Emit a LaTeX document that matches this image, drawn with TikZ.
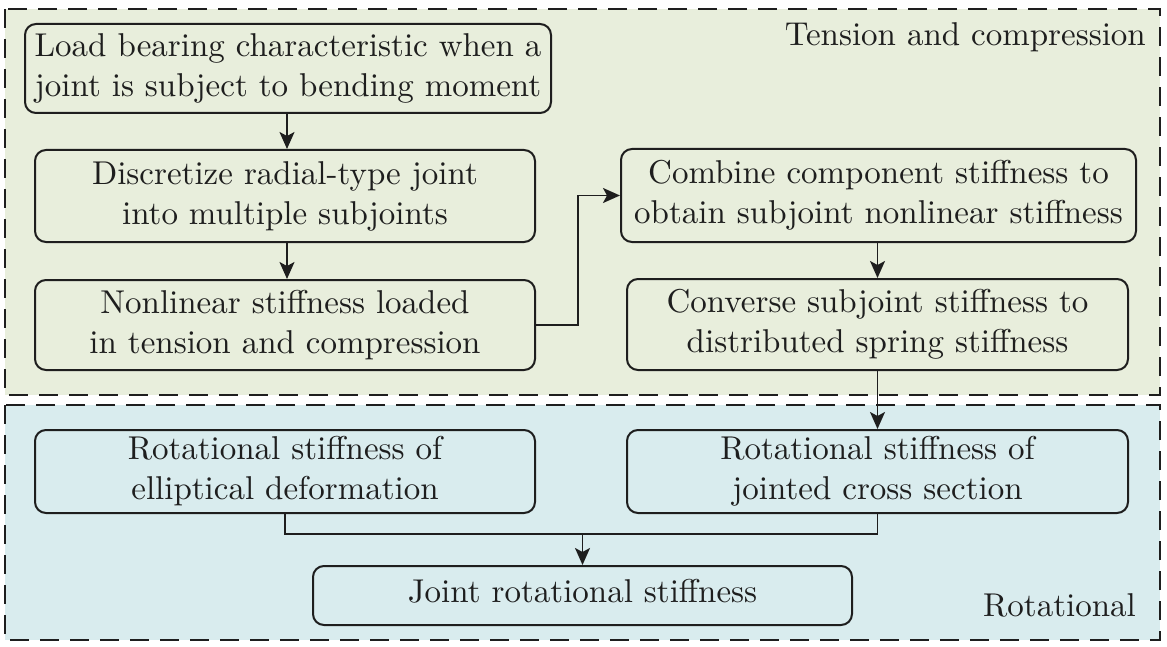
\documentclass[tikz,border=0pt]{standalone}
\usepackage{fontspec}
\setmainfont{lmroman10-regular.otf}
\usetikzlibrary{arrows.meta}
\definecolor{tenbg}{HTML}{E8EEDC}
\definecolor{rotbg}{HTML}{D9ECEE}
\definecolor{ink}{HTML}{1E1E1E}
\tikzset{
  region/.style={draw=ink, line width=2pt, dash pattern=on 19pt off 11pt},
  flowbox/.style={draw=ink, line width=2pt, rounded corners=11pt, align=center, inner sep=0pt,
    font=\fontsize{33}{40}\selectfont, text=ink},
  tag/.style={font=\fontsize{33}{40}\selectfont, text=ink, inner sep=0pt},
  link/.style={draw=ink, line width=1.8pt},
  arr/.style={link, -{Stealth[length=17pt,width=15pt,inset=4pt]}}
}
\begin{document}
\begin{tikzpicture}[x=1pt,y=-1pt]
\useasboundingbox (0,0) rectangle (1167,647);
\fill[white] (0,0) rectangle (1167,647);
\fill[tenbg] (5,9) rectangle (1160,395);
\fill[rotbg] (5,405) rectangle (1160,640);
\draw[region] (5,9) rectangle (1160,395);
\draw[region] (5,405) rectangle (1160,640);

\node[tag, anchor=east] (ttag) at (1146,37) {Tension and compression};
\node[tag, anchor=east] (rtag) at (1136,605) {Rotational};

\node[flowbox, minimum width=526pt, minimum height=89pt] (b1) at (288,68.5)
  {Load bearing characteristic when a\\joint is subject to bending moment};
\node[flowbox, minimum width=500pt, minimum height=92pt] (b2) at (285,196)
  {Discretize radial-type joint\\into multiple subjoints};
\node[flowbox, minimum width=500pt, minimum height=90pt] (b3) at (285,325)
  {Nonlinear stiffness loaded\\in tension and compression};
\node[flowbox, minimum width=515pt, minimum height=93pt] (b4) at (878.5,195.5)
  {Combine component stiffness to\\obtain subjoint nonlinear stiffness};
\node[flowbox, minimum width=501pt, minimum height=91pt] (b5) at (877.5,324.5)
  {Converse subjoint stiffness to\\distributed spring stiffness};
\node[flowbox, minimum width=500pt, minimum height=83pt] (b6) at (285,471.5)
  {Rotational stiffness of\\elliptical deformation};
\node[flowbox, minimum width=501pt, minimum height=83pt] (b7) at (877.5,471.5)
  {Rotational stiffness of\\jointed cross section};
\node[flowbox, minimum width=539pt, minimum height=59pt, text depth=10pt] (b8) at (582.5,595.5)
  {Joint rotational stiffness};

\coordinate (turn) at (578,325);
\coordinate (mid) at (582.5,534);

\draw[arr] (b1.south -| 287,0) -- (b2.north -| 287,0);
\draw[arr] (b2.south -| 287,0) -- (b3.north -| 287,0);
\draw[arr] (b3.east) -- (turn) |- (b4.west);
\draw[arr] (b4.south -| b5.south) -- (b5.north);
\draw[arr] (b5.south) -- (b7.north);
\draw[link] (b6.south) |- (mid) -| (b7.south);
\draw[arr] (mid) -- (b8.north);
\end{tikzpicture}
\end{document}
